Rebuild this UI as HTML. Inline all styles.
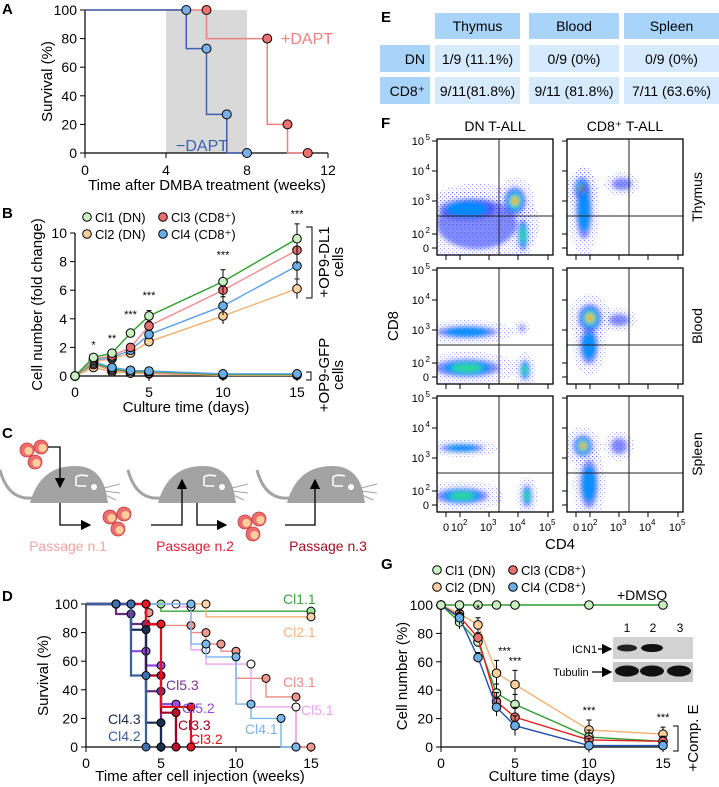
<!DOCTYPE html>
<html><head><meta charset="utf-8"><style>
html,body{margin:0;padding:0;background:#fff}
svg{display:block;font-family:"Liberation Sans",Arial,sans-serif}
</style></head><body>
<svg id="fig" width="719" height="787" viewBox="0 0 719 787" xmlns="http://www.w3.org/2000/svg">
<defs>
<filter id="blur" x="-50%" y="-50%" width="200%" height="200%"><feGaussianBlur stdDeviation="2"/></filter>
<pattern id="dots" width="4" height="4" patternUnits="userSpaceOnUse"><rect x="0" y="0" width="1.2" height="1.2" fill="#2a3cff"/><rect x="2" y="2" width="1" height="1" fill="#4a70ff"/></pattern>
<marker id="ah" markerWidth="8" markerHeight="8" refX="7" refY="4" orient="auto"><path d="M0,0 L8,4 L0,8 z" fill="#000"/></marker>
</defs>
<g id="root"></g>
</svg>
<script>
// ---------- DATA ----------
// Panel A
const aBlueT=[5,6,7,8], aBlueS=[100,73,27,0];
const aRedT=[6,9,10,11], aRedS=[100,80,20,0];
// Panel B
const bDays=[0,1.25,2.5,3.75,5,10,15];
const bCl1=[0,1.3,1.6,3.0,4.2,6.6,9.6];
const bCl3=[0,1.2,1.4,2.0,3.5,6.0,8.8];
const bCl4=[0,1.1,1.3,1.8,2.9,4.9,7.7];
const bCl2=[0,1.0,1.2,1.6,2.4,4.2,6.1];
const bCl1g=[0,0.9,0.5,0.3,0.3,0.1,0.1];
const bCl3g=[0,0.8,0.4,0.3,0.2,0.1,0.1];
const bCl4g=[0,1.0,0.6,0.4,0.35,0.15,0.15];
const bCl2g=[0,0.6,0.3,0.2,0.15,0.05,0.05];
const bErr=[0,0.2,0.3,0.5,0.6,0.9,0.8];
const bStars=["","*","**","***","***","***","***"];
// Panel G
const gDays=[0,1.25,2.5,3.75,5,10,15];
const gDMSO=[100,100,100,100,100,100,100];
const gCl1=[100,88,74,38,30,7,4];
const gCl2=[100,94,86,52,44,12,9];
const gCl3=[100,92,77,32,21,5,4];
const gCl4=[100,91,63,28,15,1,1];
const gErr=[0,7,5,9,10,7,5];
const gStars=["","","*","***","***","***","***"];
// Panel D  (event times / survival after event)
const dSeries=[
 {name:"Cl1.1",col:"#3aa53a",fill:"#9ee09e",t:[5],s:[95],end:15},
 {name:"Cl2.1",col:"#f5b27a",fill:"#fbd3a8",t:[8],s:[91],end:15},
 {name:"Cl3.1",col:"#ef8a80",fill:"#ee9890",t:[4,4.2,7,8,9,10,12,14],s:[94,85,80,72,67,48,35,0],end:15},
 {name:"Cl5.1",col:"#f0a0f0",fill:"#ffffff",t:[6,7,8,11,14],s:[98,68,58,28,0],end:14},
 {name:"Cl4.1",col:"#78b4ea",fill:"#7ab8ee",t:[7,8,10,11,13],s:[72,63,30,20,0],end:14},
 {name:"Cl5.3",col:"#6a2a80",fill:"#7b3392",t:[2,3,4,5],s:[93,86,39,0],end:5},
 {name:"Cl5.2",col:"#9048e0",fill:"#9a50e8",t:[3,4,5,6],s:[67,57,30,0],end:6},
 {name:"Cl3.3",col:"#a00020",fill:"#c01030",t:[4,5,6],s:[50,24,0],end:6},
 {name:"Cl3.2",col:"#e01020",fill:"#e81828",t:[4,5,7],s:[86,28,0],end:7},
 {name:"Cl4.3",col:"#1a2a50",fill:"#1c3050",t:[3,4,5],s:[82,17,0],end:5},
 {name:"Cl4.2",col:"#3560a0",fill:"#4070b0",t:[3,4],s:[50,0],end:4}
];

// ---------- HELPERS ----------
const NS="http://www.w3.org/2000/svg";
const root=document.getElementById('root');
function el(tag,attrs,parent,txt){const e=document.createElementNS(NS,tag);for(const k in attrs)e.setAttribute(k,attrs[k]);if(txt!==undefined)e.textContent=txt;(parent||root).appendChild(e);return e;}
function txt(x,y,s,size,opts,parent){const o=Object.assign({x:x,y:y,'font-size':size},opts||{});return el('text',o,parent,s);}
function lin(d0,d1,r0,r1){return v=>r0+(v-d0)*(r1-r0)/(d1-d0);}

// ---------- PANEL A ----------
{
const g=el('g',{});


const X=lin(0,12,85,328),Y=lin(0,100,153,10);
txt(2,14,"A",15,{'font-weight':'bold'},g);
el('rect',{x:X(4),y:Y(100),width:X(8)-X(4),height:Y(0)-Y(100),fill:'#d9d9d9'},g);
el('line',{x1:X(0),y1:Y(0),x2:X(12),y2:Y(0),stroke:'#000','stroke-width':1.2},g);
el('line',{x1:X(0),y1:Y(0),x2:X(0),y2:Y(100),stroke:'#000','stroke-width':1.2},g);
[0,20,40,60,80,100].forEach(v=>{el('line',{x1:X(0)-5,y1:Y(v),x2:X(0),y2:Y(v),stroke:'#000'},g);txt(X(0)-8,Y(v)+5,v,14,{'text-anchor':'end'},g);});
[0,4,8,12].forEach(v=>{el('line',{x1:X(v),y1:Y(0),x2:X(v),y2:Y(0)+5,stroke:'#000'},g);txt(X(v),Y(0)+22,v,14,{'text-anchor':'middle'},g);});
txt(207,190,"Time after DMBA treatment (weeks)",15,{'text-anchor':'middle'},g);
txt(0,0,"Survival (%)",15,{'text-anchor':'middle',transform:`translate(52,${Y(50)}) rotate(-90)`},g);
function km(T,S,col,fill){
  let d=`M${X(0)},${Y(S[0])}`;for(let i=1;i<T.length;i++){d+=` H${X(T[i-1])} V${Y(S[i])}`;}d+=` H${X(T[T.length-1])}`;
  el('path',{d:d,fill:'none',stroke:col,'stroke-width':1.5},g);
  T.forEach((t,i)=>{const c=el('circle',{cx:X(t),cy:Y(S[i]),r:4.5,fill:fill,stroke:'#000','stroke-width':1},g);});}
km(aRedT,aRedS,'#f08080','#f07070');
km(aBlueT,aBlueS,'#3a62b0','#7ab0ea');
txt(281,44,"+DAPT",16,{fill:'#f08080'},g);
txt(176,151,"−DAPT",16,{fill:'#3a62b0'},g);
}

// ---------- PANEL B ----------
{
const g=el('g',{});


const X=lin(0,15,75,297),Y=lin(0,10,376,233);
txt(2,218,"B",15,{'font-weight':'bold'},g);
el('line',{x1:X(0),y1:Y(0),x2:X(15)+4,y2:Y(0),stroke:'#000','stroke-width':1.2},g);
el('line',{x1:X(0),y1:Y(0),x2:X(0),y2:Y(10),stroke:'#000','stroke-width':1.2},g);
[0,2,4,6,8,10].forEach(v=>{el('line',{x1:X(0)-5,y1:Y(v),x2:X(0),y2:Y(v),stroke:'#000'},g);txt(X(0)-8,Y(v)+5,v,14,{'text-anchor':'end'},g);});
[0,5,10,15].forEach(v=>{el('line',{x1:X(v),y1:Y(0),x2:X(v),y2:Y(0)+5,stroke:'#000'},g);txt(X(v),Y(0)+21,v,14,{'text-anchor':'middle'},g);});
txt(186,412,"Culture time (days)",15,{'text-anchor':'middle'},g);
txt(0,0,"Cell number (fold change)",15,{'text-anchor':'middle',transform:`translate(42,${Y(5)}) rotate(-90)`},g);
const ser=[[bCl2g,'#f5b070','#fcd09c'],[bCl3g,'#f08c8c','#ea7070'],[bCl1g,'#2ea02e','#c8f0c0'],[bCl4g,'#5aa0e8','#6aaee8'],
           [bCl2,'#f5b070','#fcd09c'],[bCl4,'#5aa0e8','#6aaee8'],[bCl3,'#f08c8c','#ea7070'],[bCl1,'#2ea02e','#c8f0c0']];
ser.forEach(([vals,col,fill])=>{
  el('path',{d:vals.map((v,i)=>(i?'L':'M')+X(bDays[i])+','+Y(v)).join(' '),fill:'none',stroke:col,'stroke-width':1.4},g);
  vals.forEach((v,i)=>{if(i>0){const e=bErr[i]*(v/8+0.1);el('line',{x1:X(bDays[i]),y1:Y(v+e),x2:X(bDays[i]),y2:Y(v-e),stroke:'#000'},g);el('line',{x1:X(bDays[i])-2.5,y1:Y(v+e),x2:X(bDays[i])+2.5,y2:Y(v+e),stroke:'#000'},g);}
    const c=el('circle',{cx:X(bDays[i]),cy:Y(v),r:4.3,fill:fill,stroke:'#000','stroke-width':1},g);});
});
bStars.forEach((s,i)=>{if(s)txt(X(bDays[i]),Y(bCl1[i]+bErr[i]*1.4)-5,s,11,{'text-anchor':'middle'},g);});
[[87,222,'#c8f0c0','Cl1 (DN)'],[87,239,'#fcd09c','Cl2 (DN)'],[163,222,'#ea7070','Cl3 (CD8⁺)'],[163,239,'#6aaee8','Cl4 (CD8⁺)']].forEach(([x,y,f,t])=>{
  const lg=el('g',{},g);
  el('circle',{cx:x,cy:y-5,r:4.3,fill:f,stroke:'#000'},lg);txt(x+8,y,t,13,{},lg);});
el('path',{d:'M306,227 H312 V298 H306',fill:'none',stroke:'#000'},g);
txt(0,0,"+OP9-DL1",15,{'text-anchor':'middle',transform:'translate(329,262) rotate(-90)'},g);
txt(0,0,"cells",15,{'text-anchor':'middle',transform:'translate(343,262) rotate(-90)'},g);
el('path',{d:'M306,372 H311 V380 H306',fill:'none',stroke:'#000'},g);
txt(0,0,"+OP9-GFP",15,{'text-anchor':'middle',transform:'translate(329,375) rotate(-90)'},g);
txt(0,0,"cells",15,{'text-anchor':'middle',transform:'translate(343,375) rotate(-90)'},g);
}

// ---------- PANEL C ----------
{
const g=el('g',{});


txt(2,438,"C",15,{'font-weight':'bold'},g);
function mouse(x0){
  const m=el('g',{transform:`translate(${x0},0)`},g);
  el('path',{d:'M0,470 Q8,500 32,498',fill:'none',stroke:'#a3a3a3','stroke-width':3},m);
  el('path',{d:'M30,503 Q40,466 75,466 Q100,466 106,492 L108,503 Z',fill:'#a3a3a3'},m);
  el('path',{d:'M76,486 L76,477 Q80,474 88,476 M86,486 L77,486',fill:'none',stroke:'#fff','stroke-width':1.6},m);
  el('circle',{cx:94,cy:487,r:3,fill:'#fff'},m);
  el('path',{d:'M104,488 L120,484 M104,491 L120,493 M103,494 L116,500',stroke:'#a3a3a3','stroke-width':1},m);
}
mouse(0);mouse(128);mouse(257);
function cells(x,y){[[x,y],[x+14,y-3],[x+8,y+12]].forEach(([cx,cy])=>{el('circle',{cx:cx,cy:cy,r:7,fill:'#ee6e6e',stroke:'#c04040','stroke-width':0.8},g);el('circle',{cx:cx+1.5,cy:cy+1,r:4,fill:'#fcd09c'},g);});}
cells(27,450);cells(110,517);cells(245,522);
el('path',{d:'M48,447 H60 V487',fill:'none',stroke:'#000','stroke-width':1.3,'marker-end':'url(#ah)'},g);
el('path',{d:'M60,503 V525 H90',fill:'none',stroke:'#000','stroke-width':1.3,'marker-end':'url(#ah)'},g);
el('path',{d:'M151,525 H182 V480',fill:'none',stroke:'#000','stroke-width':1.3,'marker-end':'url(#ah)'},g);
el('path',{d:'M197,503 V525 H226',fill:'none',stroke:'#000','stroke-width':1.3,'marker-end':'url(#ah)'},g);
el('path',{d:'M285,525 H315 V480',fill:'none',stroke:'#000','stroke-width':1.3,'marker-end':'url(#ah)'},g);
txt(68,551,"Passage n.1",14,{'text-anchor':'middle',fill:'#f3a3a3'},g);
txt(195,551,"Passage n.2",14,{'text-anchor':'middle',fill:'#e0203a'},g);
txt(328,551,"Passage n.3",14,{'text-anchor':'middle',fill:'#a01020'},g);
}

// ---------- PANEL D ----------
{
const g=el('g',{});


const X=lin(0,15,86,311),Y=lin(0,100,747,604);
txt(2,601,"D",15,{'font-weight':'bold'},g);
el('line',{x1:X(0),y1:Y(0),x2:X(15)+4,y2:Y(0),stroke:'#000','stroke-width':1.2},g);
el('line',{x1:X(0),y1:Y(0),x2:X(0),y2:Y(100),stroke:'#000','stroke-width':1.2},g);
[0,20,40,60,80,100].forEach(v=>{el('line',{x1:X(0)-5,y1:Y(v),x2:X(0),y2:Y(v),stroke:'#000'},g);txt(X(0)-8,Y(v)+5,v,14,{'text-anchor':'end'},g);});
[0,5,10,15].forEach(v=>{el('line',{x1:X(v),y1:Y(0),x2:X(v),y2:Y(0)+5,stroke:'#000'},g);txt(X(v),Y(0)+21,v,14,{'text-anchor':'middle'},g);});
txt(200,781,"Time after cell injection (weeks)",15,{'text-anchor':'middle'},g);
txt(0,0,"Survival (%)",15,{'text-anchor':'middle',transform:`translate(48,${Y(50)}) rotate(-90)`},g);
dSeries.forEach(s=>{
  let d=`M${X(0)},${Y(100)}`;
  s.t.forEach((t,i)=>{d+=` H${X(t)} V${Y(s.s[i])}`;});d+=` H${X(s.end)}`;
  const thick=s.end<=7?2.2:1.4;
  el('path',{d:d,fill:'none',stroke:s.col,'stroke-width':thick},g);
  let p=100;const pts=[[2,100]];s.t.forEach((t,i)=>{pts.push([t,p]);p=s.s[i];});pts.push([s.end,p]);
  pts.forEach(([t,v])=>{const c=el('circle',{cx:X(t),cy:Y(v),r:4,fill:s.fill,stroke:'#000','stroke-width':1},g);});
});
[["Cl1.1",283,604,'#3aa53a'],["Cl2.1",283,637,'#f5b27a'],["Cl3.1",283,687,'#ef8a80'],["Cl5.1",301,715,'#f0a0f0'],["Cl4.1",245,734,'#78b4ea'],
 ["Cl5.3",166,690,'#7b3392'],["Cl5.2",182,713,'#9048e0'],["Cl3.3",178,730,'#a00020'],["Cl3.2",190,744,'#e01020'],["Cl4.3",108,724,'#1a2a50'],["Cl4.2",108,741,'#3560a0']]
 .forEach(([t,x,y,c])=>{const l=txt(x,y,t,14,{fill:c},g);});
}

// ---------- PANEL E ----------
{
const g=el('g',{});


txt(381,22,"E",15,{'font-weight':'bold'},g);
const cols=[[435,520],[529,619],[624,719]];
const heads=["Thymus","Blood","Spleen"];
const rows=[["DN","1/9 (11.1%)","0/9 (0%)","0/9 (0%)"],["CD8⁺","9/11(81.8%)","9/11 (81.8%)","7/11 (63.6%)"]];
cols.forEach(([a,b],i)=>{el('rect',{x:a,y:13,width:b-a,height:26,fill:'#a9d4fa'},g);txt((a+b)/2,31,heads[i],14,{'text-anchor':'middle'},g);});
rows.forEach((r,j)=>{const y=45+j*32;
  el('rect',{x:380,y:y,width:50,height:27,fill:'#a9d4fa'},g);txt(425,y+19,r[0],14,{'text-anchor':'end'},g);
  cols.forEach(([a,b],i)=>{el('rect',{x:a,y:y,width:b-a,height:27,fill:'#d6eafd'},g);txt((a+b)/2,y+19,r[i+1],14,{'text-anchor':'middle'},g);});});
}

// ---------- PANEL F ----------
{
const g=el('g',{});


txt(381,128,"F",15,{'font-weight':'bold'},g);
txt(495,131,"DN T-ALL",14,{'text-anchor':'middle'},g);
txt(625,131,"CD8⁺ T-ALL",14,{'text-anchor':'middle'},g);
const lefts=[437,567],tops=[139,268,396],W=116,H=116;
const blobs=[
 [[[40,85,40,25,1.5],[30,70,28,10,2],[78,62,11,14,5],[86,96,5,16,3]],[[15,50,8,12,5],[17,72,8,28,2],[55,45,10,6,1.5]]],
 [[[30,64,30,6,2],[30,100,32,9,3],[88,102,5,10,3],[85,60,3,3,1]],[[23,50,12,14,5],[22,78,9,18,2],[52,52,10,6,1.5]]],
 [[[25,52,22,4,2.5],[25,100,26,8,3],[90,100,5,11,3.5]],[[16,50,10,11,5],[22,88,9,24,2],[52,50,8,8,1.5]]]
];
const lvls=[['#2030ff',1,0,0.55],['#0090ff',0.72,2,0.9],['#30e090',0.5,3,0.9],['#f0f020',0.32,4,0.95],['#ff2010',0.17,5,1]];
const yt=[[2,"10",5],[32,"10",4],[62,"10",3],[95,"10",2],[109,"0",null]];
const xt=[[9,"0",null],[23,"10",2],[52,"10",3],[81,"10",4],[111,"10",5]];
tops.forEach((t,r)=>lefts.forEach((l,c)=>{
  const pg=el('g',{},g);
  const cid='clip'+r+c;const cp=el('clipPath',{id:cid},pg);el('rect',{x:l,y:t,width:W,height:H},cp);
  const bg=el('g',{'clip-path':`url(#${cid})`},pg);
  blobs[r][c].forEach(([cx,cy,rx,ry,k])=>{el('ellipse',{cx:l+cx,cy:t+cy,rx:rx*1.5+3,ry:ry*1.5+3,fill:'url(#dots)',opacity:0.45},bg);});
  const bl=el('g',{filter:'url(#blur)'},bg);
  blobs[r][c].forEach(([cx,cy,rx,ry,k])=>{lvls.forEach(([col,sc,need,op],i)=>{if(k>=need)el('ellipse',{cx:l+cx,cy:t+cy,rx:rx*sc,ry:ry*sc,fill:col,opacity:op},bl);});});
  const qx=l+62,qy=t+77;
  el('line',{x1:qx,y1:t,x2:qx,y2:t+H,stroke:'#222','stroke-width':1},pg);
  el('line',{x1:l,y1:qy,x2:l+W,y2:qy,stroke:'#222','stroke-width':1},pg);
  el('rect',{x:l,y:t,width:W,height:H,fill:'none',stroke:'#000','stroke-width':1.3},pg);
  yt.forEach(([p,b,e])=>{el('line',{x1:l-5,y1:t+p,x2:l,y2:t+p,stroke:'#000'},pg);
    if(c===0){const tx=txt(l-8,t+p+4,b,11,{'text-anchor':'end'},pg);if(e!==null){tx.setAttribute('x',l-13);el('text',{x:l-7,y:t+p-1,'font-size':8,'text-anchor':'end'},pg,e);}}});
  xt.forEach(([p,b,e])=>{el('line',{x1:l+p,y1:t+H,x2:l+p,y2:t+H+5,stroke:'#000'},pg);
    if(r===2){txt(l+p-(e!==null?3:0),t+H+19,b,11,{'text-anchor':'middle'},pg);if(e!==null)el('text',{x:l+p+3,y:t+H+13,'font-size':8},pg,e);}});
}));
[["Thymus",197],["Blood",326],["Spleen",454]].forEach(([s,y])=>txt(0,0,s,14,{'text-anchor':'middle',transform:`translate(702,${y}) rotate(-90)`},g));
txt(0,0,"CD8",15,{'text-anchor':'middle',transform:'translate(398,326) rotate(-90)'},g);
txt(560,549,"CD4",15,{'text-anchor':'middle'},g);
}

// ---------- PANEL G ----------
{
const g=el('g',{});


const X=lin(0,15,441,663),Y=lin(0,100,747,605);
txt(381,569,"G",15,{'font-weight':'bold'},g);
el('line',{x1:X(0),y1:Y(0),x2:X(15)+4,y2:Y(0),stroke:'#000','stroke-width':1.2},g);
el('line',{x1:X(0),y1:Y(0),x2:X(0),y2:Y(100),stroke:'#000','stroke-width':1.2},g);
[0,20,40,60,80,100].forEach(v=>{el('line',{x1:X(0)-5,y1:Y(v),x2:X(0),y2:Y(v),stroke:'#000'},g);txt(X(0)-8,Y(v)+5,v,14,{'text-anchor':'end'},g);});
[0,5,10,15].forEach(v=>{el('line',{x1:X(v),y1:Y(0),x2:X(v),y2:Y(0)+5,stroke:'#000'},g);txt(X(v),Y(0)+21,v,14,{'text-anchor':'middle'},g);});
txt(552,781,"Culture time (days)",15,{'text-anchor':'middle'},g);
txt(0,0,"Cell number (%)",15,{'text-anchor':'middle',transform:`translate(407,${Y(50)}) rotate(-90)`},g);
const ser=[[gCl2,'#f5b070','#fcd09c'],[gCl1,'#2ea02e','#c8f0c0'],[gCl3,'#e02020','#ea7070'],[gCl4,'#2050b0','#6aaee8'],[gDMSO,'#2ea02e','#c8f0c0']];
ser.forEach(([vals,col,fill],k)=>{
  el('path',{d:vals.map((v,i)=>(i?'L':'M')+X(gDays[i])+','+Y(v)).join(' '),fill:'none',stroke:col,'stroke-width':1.4},g);
  vals.forEach((v,i)=>{if(k<4&&i>0){const e=gErr[i]*(k===0?1:0.7);el('line',{x1:X(gDays[i]),y1:Y(v+e),x2:X(gDays[i]),y2:Y(v-e),stroke:'#000'},g);el('line',{x1:X(gDays[i])-2.5,y1:Y(v+e),x2:X(gDays[i])+2.5,y2:Y(v+e),stroke:'#000'},g);}
    const c=el('circle',{cx:X(gDays[i]),cy:Y(v),r:4.3,fill:fill,stroke:'#000','stroke-width':1},g);});
});
gStars.forEach((s,i)=>{if(s)txt(X(gDays[i])+(i===3?8:0),Y(gCl2[i]+gErr[i])-6,s,11,{'text-anchor':'middle'},g);});
[[437,575,'#c8f0c0','Cl1 (DN)'],[437,592,'#fcd09c','Cl2 (DN)'],[513,575,'#ea7070','Cl3 (CD8⁺)'],[513,592,'#6aaee8','Cl4 (CD8⁺)']].forEach(([x,y,f,t])=>{
  const lg=el('g',{},g);
  el('circle',{cx:x,cy:y-5,r:4.3,fill:f,stroke:'#000'},lg);txt(x+8,y,t,13,{},lg);});
txt(617,600,"+DMSO",14,{},g);
const wb=el('g',{},g);
el('rect',{x:613,y:637,width:80,height:22,fill:'#d2d2d2'},wb);
el('rect',{x:613,y:662,width:80,height:20,fill:'#c8c8c8'},wb);
el('ellipse',{cx:627,cy:648,rx:10,ry:3.5,fill:'#222'},wb);
el('ellipse',{cx:652,cy:648,rx:11,ry:4,fill:'#111'},wb);
[627,652,679].forEach(x=>el('ellipse',{cx:x,cy:671,rx:12,ry:5.5,fill:'#111'},wb));
[["1",627],["2",653],["3",680]].forEach(([s,x])=>txt(x,632,s,12,{'text-anchor':'middle'},wb));
txt(572,653,"ICN1",11,{},wb);
el('line',{x1:598,y1:649,x2:611,y2:649,stroke:'#000','stroke-width':1.3,'marker-end':'url(#ah)'},wb);
txt(553,676,"Tubulin",11,{},wb);
el('line',{x1:592,y1:672,x2:611,y2:672,stroke:'#000','stroke-width':1.3,'marker-end':'url(#ah)'},wb);
el('path',{d:'M673,726 H678 V751 H673',fill:'none',stroke:'#000'},g);
txt(0,0,"+Comp. E",15,{'text-anchor':'middle',transform:'translate(698,738) rotate(-90)'},g);
}
</script>
</body></html>
